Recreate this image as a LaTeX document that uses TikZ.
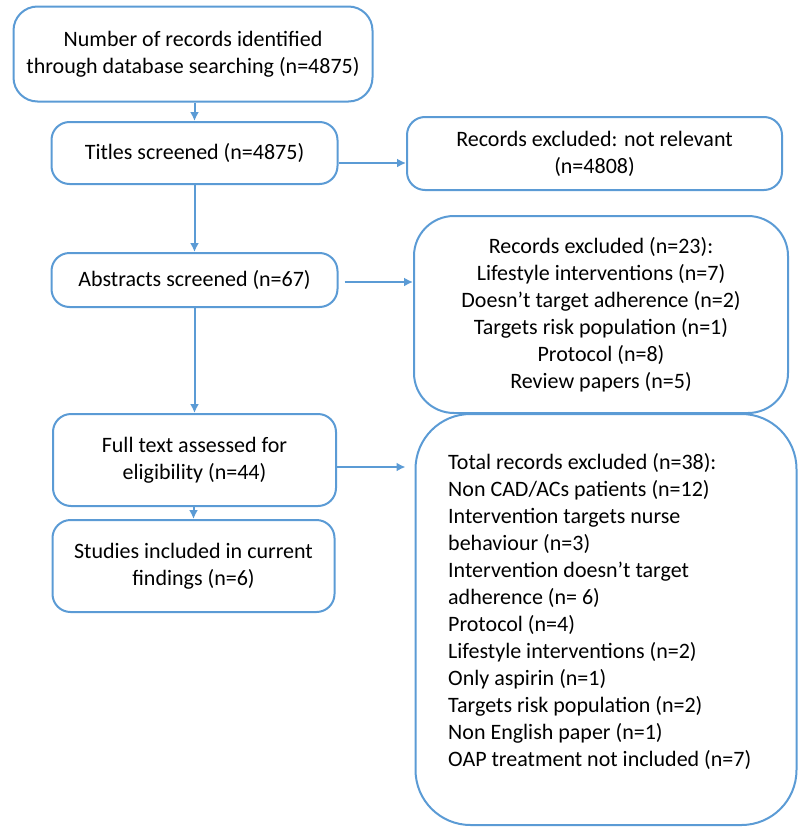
\documentclass[tikz,border=0pt]{standalone}
\usepackage{fontspec}
\setmainfont{Carlito}
\usepackage{tikz}
\usetikzlibrary{calc}
\usetikzlibrary{arrows.meta}
\definecolor{boxblue}{HTML}{5B9BD5}

\begin{document}
\begin{tikzpicture}[x = 1pt, y = -1pt,
    flowbox/.style = {draw = boxblue, line width = 2pt, rounded corners = 18pt, align = center, inner sep = 0pt, font = \fontsize{22}{27}\selectfont},
    listtext/.style = {align = left, inner sep = 0pt, font = \fontsize{22}{27}\selectfont},
    flowarrow/.style = {draw = boxblue, line width = 2pt, -{Latex[length = 9pt, width = 9pt]}}]
    \useasboundingbox (0, 0) rectangle (798, 827);
    % main column
    \node [flowbox, minimum width = 359pt, minimum height = 95pt, rounded corners = 24pt] (records) at (193, 54) {Number of records identified\\through database searching (n=4875)};
    \node [flowbox, minimum width = 286pt, minimum height = 62pt] (titles) at (194.5, 153) {Titles screened (n=4875)};
    \node [flowbox, minimum width = 286pt, minimum height = 54pt] (abstracts) at (194.5, 280) {Abstracts screened (n=67)};
    \node [flowbox, minimum width = 283pt, minimum height = 92pt] (fulltext) at (194.5, 460) {Full text assessed for\\eligibility (n=44)};
    \node [flowbox, minimum width = 282pt, minimum height = 92pt] (included) at (193.5, 566) {Studies included in current\\findings (n=6)};
    % exclusions
    \node [flowbox, minimum width = 375pt, minimum height = 73pt] (notrel) at (594.5, 153.5) {Records excluded: not relevant\\(n=4808)};
    \node [flowbox, minimum width = 374pt, minimum height = 197pt, rounded corners = 40pt] (excl23) at (601, 314.5) {Records excluded (n=23):\\Lifestyle interventions (n=7)\\Doesn’t target adherence (n=2)\\Targets risk population (n=1)\\Protocol (n=8)\\Review papers (n=5)};
    \node [flowbox, minimum width = 381pt, minimum height = 411pt, rounded corners = 55pt] (excl38) at (606, 619.5) {};
    \node [listtext, anchor = west] (excl38list) at (448, 611) {Total records excluded (n=38):\\Non CAD/ACs patients (n=12)\\Intervention targets nurse\\behaviour (n=3)\\Intervention doesn’t target\\adherence (n= 6)\\Protocol (n=4)\\Lifestyle interventions (n=2)\\Only aspirin (n=1)\\Targets risk population (n=2)\\Non English paper (n=1)\\OAP treatment not included (n=7)};
    % arrows
    \draw [flowarrow] (records.south -| titles.north) -- (titles.north);
    \draw [flowarrow] (titles.south -| abstracts.north) -- (abstracts.north);
    \draw [flowarrow] (abstracts.south -| fulltext.north) -- (fulltext.north);
    \draw [flowarrow] (fulltext.south -| included.north) -- (included.north);
    \draw [flowarrow] ([yshift = -10pt] titles.east) -- ([yshift = -10pt] titles.east -| notrel.west);
    \draw [flowarrow, shorten <= 6pt] ([yshift = -2pt] abstracts.east) -- ([yshift = -2pt] abstracts.east -| excl23.west);
    \draw [flowarrow, shorten >= 9pt] ([yshift = -7pt] fulltext.east) -- ([yshift = -7pt] fulltext.east -| excl38.west);
\end{tikzpicture}
\end{document}
